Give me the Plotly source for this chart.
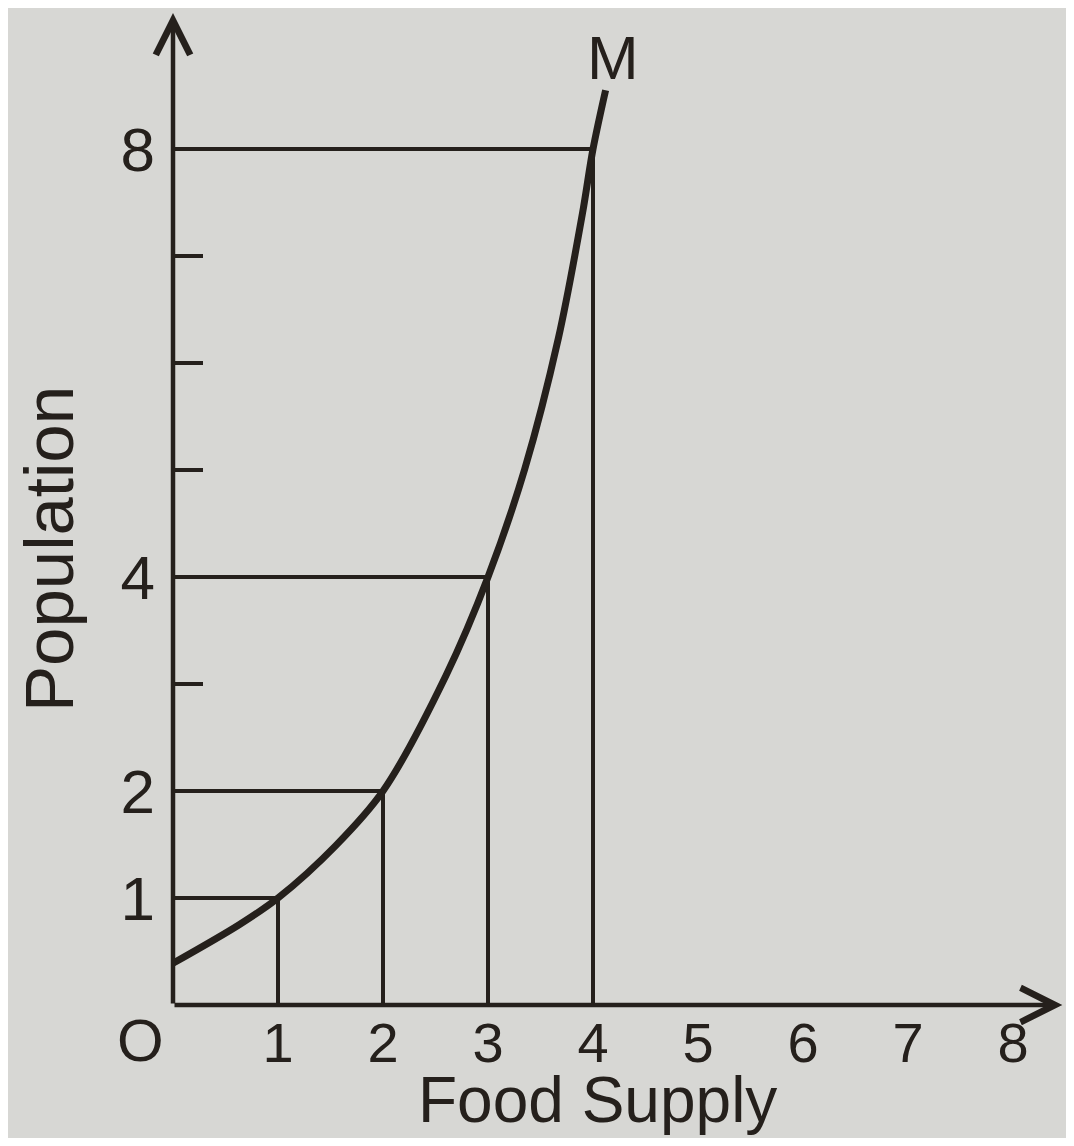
import plotly.graph_objects as go

# Data
food_levels = [1, 2, 3, 4]          # food supply (arithmetic progression)
pop_levels = [1, 2, 4, 8]           # population (geometric progression)
curve_x = [0, 0.63, 1, 1.55, 2, 2.6, 3, 3.35, 3.67, 3.9, 4, 4.12]
curve_y = [0.39, 0.75, 1, 1.49, 2, 3.08, 4, 5.01, 6.23, 7.4, 8, 8.55]
x_ticks = [1, 2, 3, 4, 5, 6, 7, 8]
y_ticks = [1, 2, 3, 4, 5, 6, 7, 8]
y_tick_text = ["1", "2", "", "4", "", "", "", "8"]

INK = "#25201c"
BG = "#d7d7d4"
FONT = "Liberation Sans, Arial, sans-serif"

W, H = 1058, 1130
L, B = 165, 133
PW, PH = W - L, H - B
XU, YU = 105, 107   # pixels per unit

fig = go.Figure()

# guide lines (horizontal from y-axis to curve, vertical from x-axis to curve)
gx, gy = [], []
for fx, py in zip(food_levels, pop_levels):
    gx += [0, fx, None, fx, fx, None]
    gy += [py, py, None, 0, py, None]
fig.add_trace(go.Scatter(x=gx, y=gy, mode="lines",
                         line=dict(color=INK, width=4),
                         hoverinfo="skip", showlegend=False))

# population curve
fig.add_trace(go.Scatter(x=curve_x, y=curve_y, mode="lines",
                         line=dict(color=INK, width=7, shape="spline", smoothing=0.9),
                         showlegend=False))

# axes with arrows
fig.add_annotation(x=8.47, y=0, ax=0, ay=0, xref="x", yref="y", axref="x", ayref="y",
                   showarrow=True, arrowhead=5, arrowsize=1.5, arrowwidth=4.5,
                   arrowcolor=INK, text="")
fig.add_annotation(x=0, y=9.27, ax=0, ay=0, xref="x", yref="y", axref="x", ayref="y",
                   showarrow=True, arrowhead=5, arrowsize=1.5, arrowwidth=4.5,
                   arrowcolor=INK, text="")


def px_to_paper(px, py):
    return (px - L) / PW, (PH - py) / PH


# labels (positions given in figure pixels)
mx, my = px_to_paper(605, 50)
fig.add_annotation(x=mx, y=my, xref="paper", yref="paper", text="M", showarrow=False,
                   xanchor="center", yanchor="middle",
                   font=dict(size=62, color=INK, family=FONT))
ox, oy = px_to_paper(132, 1032)
fig.add_annotation(x=ox, y=oy, xref="paper", yref="paper", text="O", showarrow=False,
                   xanchor="center", yanchor="middle",
                   font=dict(size=60, color=INK, family=FONT))
fx_, fy_ = px_to_paper(589, 1092)
fig.add_annotation(x=fx_, y=fy_, xref="paper", yref="paper", text="Food Supply",
                   showarrow=False, xanchor="center", yanchor="middle",
                   font=dict(size=64, color=INK, family=FONT))
px_, py_ = px_to_paper(41, 541)
fig.add_annotation(x=px_, y=py_, xref="paper", yref="paper", text="Population",
                   showarrow=False, textangle=-90, xanchor="center", yanchor="middle",
                   font=dict(size=69, color=INK, family=FONT))

fig.update_xaxes(range=[0, PW / XU], tickvals=x_ticks, ticks="", showline=False,
                 showgrid=False, zeroline=False, ticklabelstandoff=0,
                 tickfont=dict(size=56, color=INK, family=FONT))
fig.update_yaxes(range=[0, PH / YU], tickvals=y_ticks, ticktext=y_tick_text,
                 ticks="inside", ticklen=30, tickwidth=3.5, tickcolor=INK,
                 showline=False, showgrid=False, zeroline=False, ticklabelstandoff=17,
                 tickfont=dict(size=62, color=INK, family=FONT))

fig.update_layout(width=W, height=H,
                  margin=dict(l=L, r=0, t=0, b=B),
                  paper_bgcolor=BG, plot_bgcolor=BG)

fig.write_html("out.html")
